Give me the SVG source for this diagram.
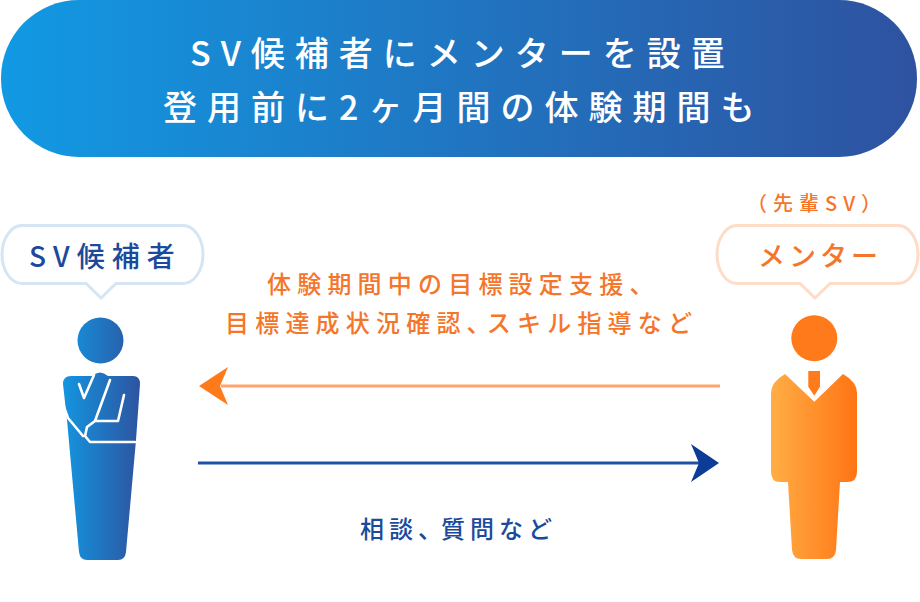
<svg xmlns="http://www.w3.org/2000/svg" width="920" height="602" viewBox="0 0 920 602">
<style>
text{font-family:"Noto Sans CJK JP","Noto Sans",sans-serif;font-weight:500}
.h{fill:#fff;font-size:34px;letter-spacing:10px}
.o{fill:#f5762a;font-size:24px;letter-spacing:6.200px}
.b{fill:#1b4a9c;font-size:24px;letter-spacing:5px}
.gap{fill:none;stroke:#fff;stroke-width:2.600;stroke-linejoin:round;stroke-linecap:round}
</style>
<defs>
<linearGradient id="gb" x1="0" x2="1" y1="0" y2="0"><stop offset="0" stop-color="#1299e3"/><stop offset="1" stop-color="#2e52a0"/></linearGradient>
<linearGradient id="gp" gradientUnits="userSpaceOnUse" x1="63" x2="140" y1="0" y2="0"><stop offset="0" stop-color="#1495e0"/><stop offset="1" stop-color="#2d54a0"/></linearGradient>
<linearGradient id="gm" gradientUnits="userSpaceOnUse" x1="771" x2="857" y1="0" y2="0"><stop offset="0" stop-color="#ffae45"/><stop offset="1" stop-color="#ff7414"/></linearGradient>
</defs>
<rect width="920" height="602" fill="#fff"/>
<g id="banner">
<rect x="1" y="0" width="916" height="157" rx="78" fill="url(#gb)"/>
<text class="h" x="190" y="66">SV候補者にメンターを設置</text>
<text class="h" x="163" y="120">登用前に2ヶ月間の体験期間も</text>
</g>
<g id="candidate">
<path d="M22,225.500H183A20,29 0 0 1 183,283.500H116L101,298L86,283.500H22A20,29 0 0 1 22,225.500Z" fill="#fff" stroke="#d6e5f3" stroke-width="3"/>
<text x="29" y="267" fill="#1b4a9c" font-size="28" letter-spacing="7">SV候補者</text>
<circle cx="100.500" cy="340.500" r="23" fill="url(#gp)"/>
<path d="M71,376H92Q100,369 108,376H133Q140,376 140,384L136,440L126,552Q125,560 118,560H87Q80,560 79,552L67,420L63,384Q63,376 71,376Z" fill="url(#gp)"/>
<path class="gap" d="M64,407L68,418L83,436M124,395L118,421H95L87,427L85,436L90,442H135M110,380L95,421M79,384L84,398L94,375"/>
</g>
<g id="mentor">
<text class="o" x="747" y="211" style="font-size:20px;letter-spacing:6px">（先輩SV）</text>
<path d="M737,225.500H898A20,29 0 0 1 898,283.500H830L815,298L800,283.500H737A20,29 0 0 1 737,225.500Z" fill="#fff" stroke="#fddcc8" stroke-width="3"/>
<text class="o" x="758" y="266" style="font-size:27px;letter-spacing:4px">メンター</text>
<circle cx="814.300" cy="338.300" r="23" fill="#ff7a1a"/>
<path d="M808.300,371H820V386.700L814.300,395.700L808.300,386.700Z" fill="#ff7a1a"/>
<path d="M785,374L814.300,401.700L843,374Q857,382 857,393V472Q857,482 847,482H840L836,550Q835,559 827,559H801Q793,559 792,550L788,482H780Q771,482 771,472V393Q771,382 785,374Z" fill="url(#gm)"/>
</g>
<g id="connectors">
<path d="M720,386H221" stroke="#ffa46c" stroke-width="3" fill="none"/>
<path d="M199,386L228,367L220,386L228,405Z" fill="#ff7a1a"/>
<path d="M198,463H700" stroke="#1f50a8" stroke-width="3" fill="none"/>
<path d="M719,463L691,444L699,463L691,482Z" fill="#0b3c97"/>
</g>
<g id="labels">
<text class="o" x="267" y="293">体験期間中の目標設定支援、</text>
<text class="o" x="225" y="332">目標達成状況確認、<tspan dx="-10">スキル指導など</tspan></text>
<text class="b" x="360" y="538">相談、<tspan dx="-6">質問など</tspan></text>
</g>
</svg>
